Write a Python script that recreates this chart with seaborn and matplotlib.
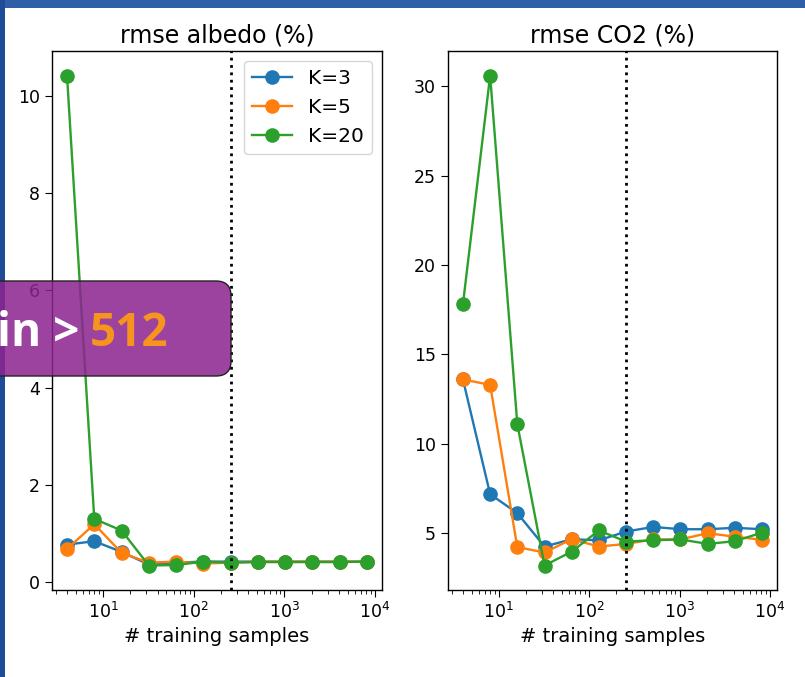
import pandas as pd
import matplotlib.pyplot as plt
import seaborn as sns
from matplotlib.patches import FancyBboxPatch, Rectangle

# numero de amostras de treino
samples = [4, 8, 16, 32, 64, 128, 256, 512, 1024, 2048, 4096, 8192]
k_labels = ['K=3', 'K=5', 'K=20']
cores = ['#1f77b4', '#ff7f0e', '#2ca02c']

albedo_k3 = [0.77, 0.84, 0.62, 0.36, 0.40, 0.42, 0.42, 0.42, 0.42, 0.42, 0.42, 0.42]
albedo_k5 = [0.68, 1.19, 0.60, 0.40, 0.42, 0.38, 0.40, 0.42, 0.42, 0.42, 0.42, 0.42]
albedo_k20 = [10.42, 1.30, 1.06, 0.34, 0.35, 0.42, 0.40, 0.41, 0.41, 0.41, 0.41, 0.42]

co2_k3 = [13.6, 7.18, 6.12, 4.25, 4.66, 4.6, 5.09, 5.35, 5.22, 5.22, 5.3, 5.22]
co2_k5 = [13.6, 13.3, 4.22, 3.92, 4.66, 4.25, 4.4, 4.65, 4.65, 5.0, 4.8, 4.63]
co2_k20 = [17.8, 30.6, 11.1, 3.19, 3.97, 5.15, 4.53, 4.6, 4.65, 4.4, 4.55, 5.03]

corte = 256

plt.rcParams['axes.linewidth'] = 1.0
plt.rcParams['xtick.major.size'] = 5
plt.rcParams['xtick.minor.size'] = 3
plt.rcParams['ytick.major.size'] = 5

fig = plt.figure(figsize=(8.05, 6.77), dpi=100)
fig.patch.set_facecolor('white')
ax1 = fig.add_axes([0.0646, 0.1285, 0.41, 0.796])
ax2 = fig.add_axes([0.5565, 0.1285, 0.4087, 0.796])

paineis = [
    (ax1, 'rmse albedo (%)', [albedo_k3, albedo_k5, albedo_k20]),
    (ax2, 'rmse CO2 (%)', [co2_k3, co2_k5, co2_k20]),
]

for ax, titulo, series in paineis:
    for lab, cor, vals in zip(k_labels, cores, series):
        df = pd.DataFrame({'n': samples, 'rmse': vals})
        sns.lineplot(data=df, x='n', y='rmse', ax=ax, color=cor, marker='o',
                     markersize=9.5, markeredgecolor=cor, markeredgewidth=1,
                     linewidth=1.7, label=lab, legend=False)
    ax.set_xscale('log')
    ax.axvline(corte, color='black', linestyle=':', linewidth=2)
    ax.set_title(titulo, fontsize=17)
    ax.set_xlabel('# training samples', fontsize=14)
    ax.set_ylabel('')
    ax.tick_params(labelsize=12.5)

ax1.set_yticks([0, 2, 4, 6, 8, 10])
ax2.set_yticks([5, 10, 15, 20, 25, 30])
ax1.legend(loc='upper right', fontsize=14.5)

# moldura azul do slide
fig.patches.append(Rectangle((0, 669), 805, 8, transform=None,
                             facecolor='#2f5fa6', edgecolor='none', zorder=5))
fig.patches.append(Rectangle((0, 0), 5, 677, transform=None,
                             facecolor='#1f4c96', edgecolor='none', zorder=5))

# caixa roxa sobreposta
caixa = FancyBboxPatch((-30, 301), 261, 95, transform=None,
                       boxstyle='round,pad=0,rounding_size=15',
                       facecolor=(0.55, 0.14, 0.57, 0.86), edgecolor='#222222',
                       linewidth=1, zorder=6)
fig.patches.append(caixa)
fig.text(-3 / 805, 331 / 677, 'in >', color='white', fontsize=33,
         fontweight='bold', family='Open Sans', va='baseline', zorder=7)
fig.text(90 / 805, 331 / 677, '512', color='#f7941d', fontsize=33,
         fontweight='bold', family='Open Sans', va='baseline', zorder=7)

fig.savefig('out.png', dpi=100)
